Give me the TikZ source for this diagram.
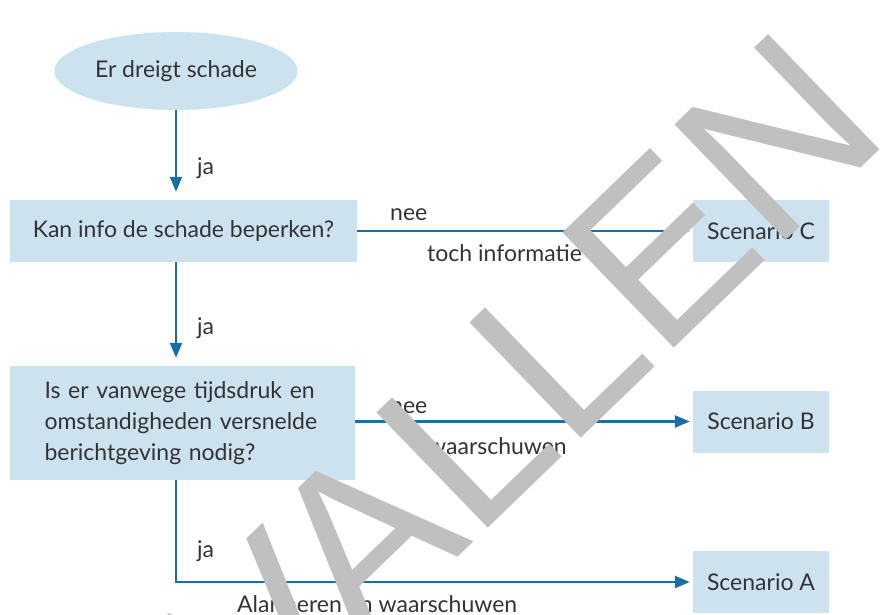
\documentclass[tikz,border=0pt]{standalone}
\usepackage{fontspec}
\setmainfont{Lato}
\newfontfamily\wmfont{Liberation Sans}
\usepackage{xcolor}
\usetikzlibrary{shapes.geometric,arrows.meta,positioning,calc}
\definecolor{boxblue}{HTML}{CCE2EF}
\definecolor{linkblue}{HTML}{1A6DA6}
\definecolor{txtgray}{HTML}{333333}
\definecolor{wmgray}{HTML}{C0C0C0}
\tikzset{
  vak/.style={draw=none,fill=boxblue,text=txtgray,minimum height=62pt,inner sep=0pt},
  pijl/.style={linkblue,line width=2.4pt,-{Triangle[length=15pt,width=12pt]}},
  lbl/.style={anchor=west,text=txtgray,inner sep=0pt}
}
\begin{document}
\begin{tikzpicture}[x=1pt,y=-1pt,font=\fontsize{23}{31}\selectfont]
\useasboundingbox (0,0) rectangle (885,614);
\clip (0,0) rectangle (885,614);
% vakken
\node[vak,ellipse,minimum width=243pt,minimum height=78pt] (start) at (176,71) {Er dreigt schade};
\node[vak,minimum width=347pt] (vraag1) at (183.5,231) {Kan info de schade beperken?};
\node[vak,minimum width=345pt,minimum height=114pt,align=left,text width=276pt,inner xsep=34.5pt] (vraag2) at (182.5,423)
  {Is er vanwege tijdsdruk en\\omstandigheden versnelde\\berichtgeving nodig?};
\foreach \s/\y in {C/231,B/421.5,A/582}{
\node[vak,minimum width=136pt] (sc\s) at (761,\y) {Scenario \s};}
% pijlen
\draw[pijl,shorten >=8pt] (start.south) -- (start.south |- vraag1.north);
\draw[pijl,shorten >=8pt] (start.south |- vraag1.south) -- (start.south |- vraag2.north);
\draw[pijl,shorten >=3pt] (vraag1.east |- scC.west) -- (scC.west);
\draw[pijl,shorten >=3pt] (vraag2.east |- scB.west) -- (scB.west);
\draw[pijl,shorten >=3pt] (start.south |- vraag2.south) |- (scA.west);
% labels
\foreach \n/\y in {1/168,2/328,3/551}{
\node[lbl] (ja\n) at (197,\y) {ja};}
\node[lbl] (neeC) at (390,215) {nee};
\node[lbl] (neeB) at (390,408) {nee};
\node[lbl] (tochinfo) at (427,253) {toch informatie};
\node[lbl] (waarsch) at (428,446) {waarschuwen};
\node[lbl] (alarm) at (237,604) {Alarmeren en waarschuwen};
% watermerk
\node[anchor=base west,rotate=44,inner sep=0pt,text=wmgray,font=\wmfont\fontsize{233}{233}\selectfont] (wm) at (263,746) {VALLEN};
\end{tikzpicture}
\end{document}
